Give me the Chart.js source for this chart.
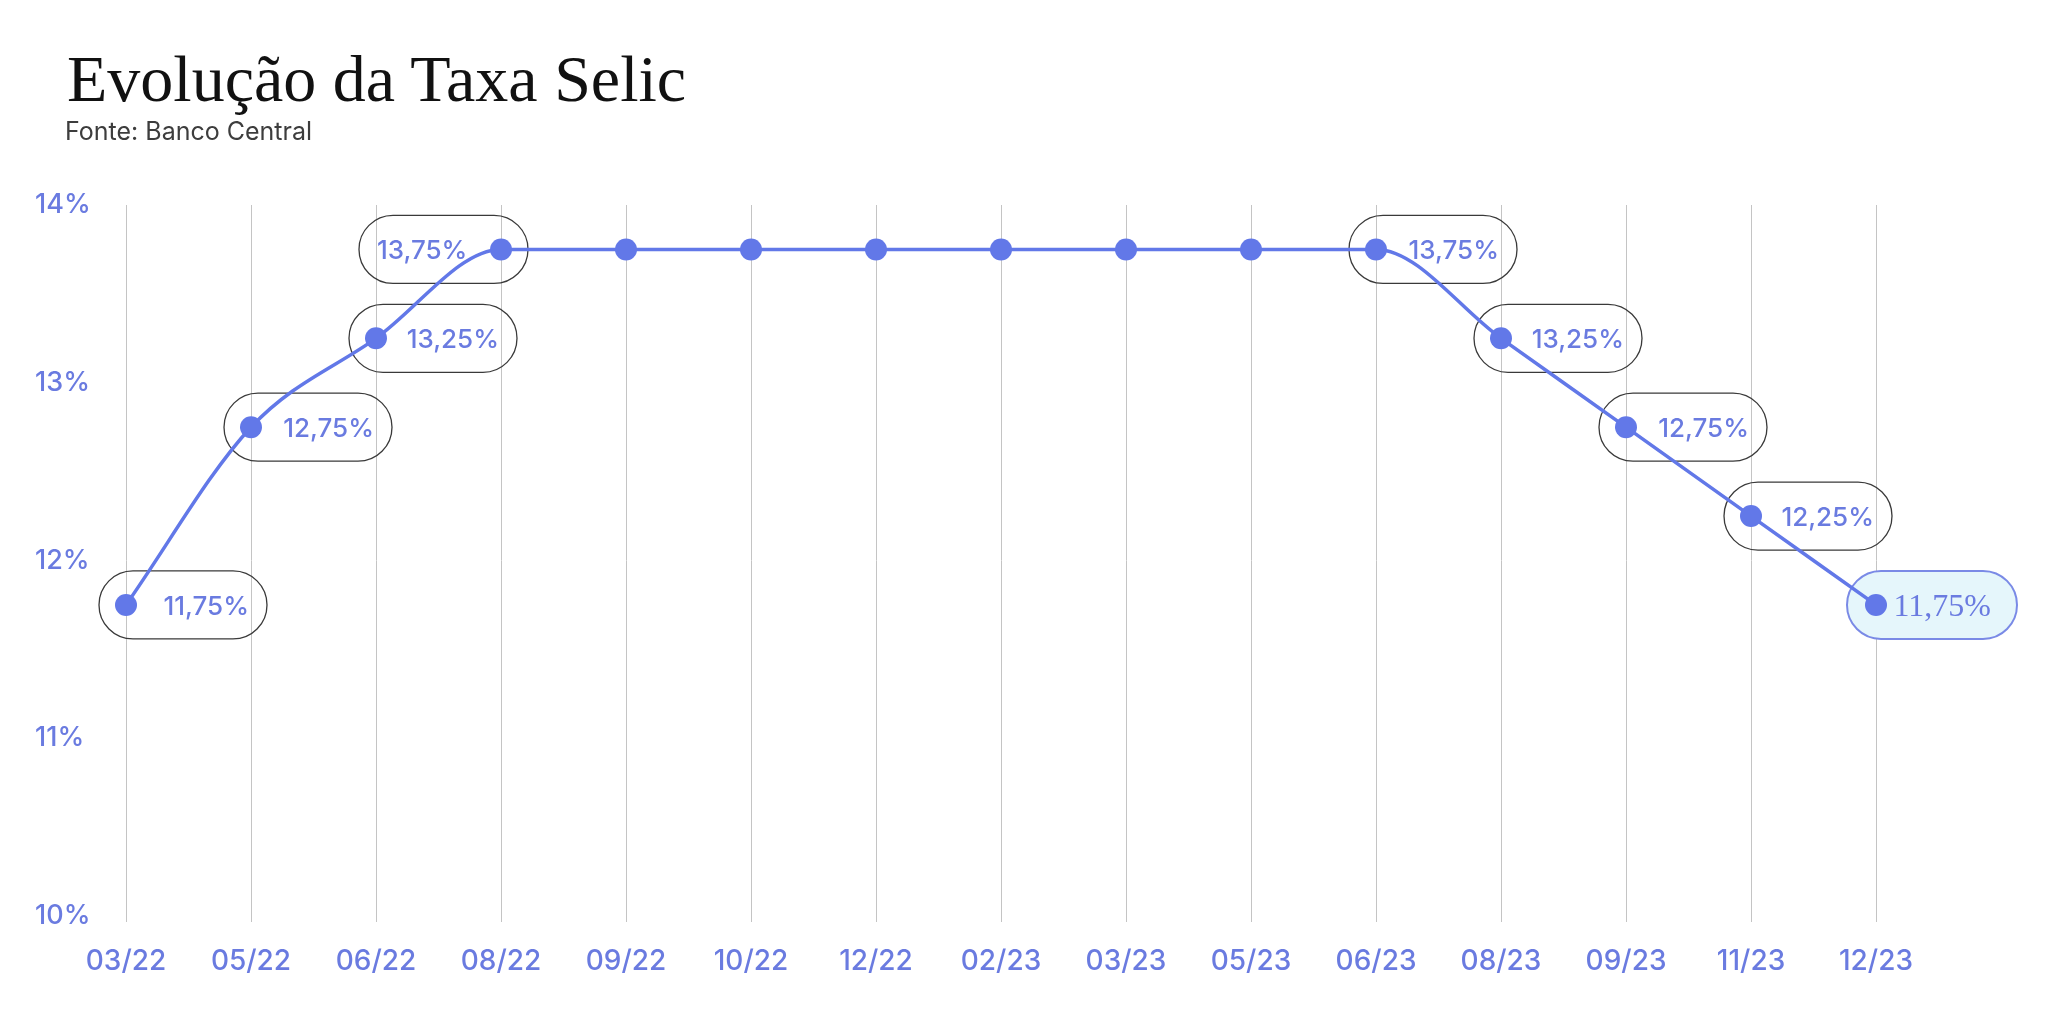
<!DOCTYPE html>
<html lang="pt-BR">
<head>
<meta charset="utf-8">
<title>Evolução da Taxa Selic</title>
<script src="https://cdn.jsdelivr.net/npm/chart.js@4.4.1/dist/chart.umd.min.js"></script>
<style>
  html, body { margin: 0; padding: 0; background: #fff; }
  body { width: 2048px; height: 1015px; position: relative; overflow: hidden; }
  #chartCanvas { position: absolute; left: 0; top: 0; }
  .titulo {
    position: absolute; left: 67px; top: 46px; margin: 0;
    font-family: "Liberation Serif", serif; font-weight: normal;
    font-size: 66px; line-height: 66px; color: #111;
  }
  .fonte {
    position: absolute; left: 65px; top: 119px; margin: 0;
    font-family: Inter, sans-serif; font-size: 25px; line-height: 25px; color: #3d3d3d;
  }
</style>
</head>
<body>
<canvas id="chartCanvas" width="2048" height="1015"></canvas>
<h1 class="titulo">Evolução da Taxa Selic</h1>
<p class="fonte">Fonte: Banco Central</p>
<script>
// dados
const meses = ["03/22", "05/22", "06/22", "08/22", "09/22", "10/22", "12/22", "02/23",
               "03/23", "05/23", "06/23", "08/23", "09/23", "11/23", "12/23"];
const selic = [11.75, 12.75, 13.25, 13.75, 13.75, 13.75, 13.75, 13.75,
               13.75, 13.75, 13.75, 13.25, 12.75, 12.25, 11.75];
const yTicks = [10, 11, 12, 13, 14];
// lado do rotulo de cada ponto (null = sem rotulo, "hl" = destaque)
const ladoRotulo = ["right", "right", "right", "left", null, null, null, null,
                    null, null, "right", "right", "right", "right", "hl"];

const azul = "#6278e8";
const azulTexto = "#6a7be0";

function pill(ctx, x, y, w, h) {
    const r = h / 2;
    ctx.beginPath();
    ctx.moveTo(x + r, y);
    ctx.lineTo(x + w - r, y);
    ctx.arc(x + w - r, y + r, r, -Math.PI / 2, Math.PI / 2);
    ctx.lineTo(x + r, y + h);
    ctx.arc(x + r, y + r, r, Math.PI / 2, Math.PI * 1.5);
    ctx.closePath();
}

const rotulosPlugin = {
    id: "rotulos",
    beforeDatasetsDraw(chart) {
        const ctx = chart.ctx;
        const pts = chart.getDatasetMeta(0).data;
        ctx.save();
        ladoRotulo.forEach((lado, i) => {
            if (!lado) return;
            const p = pts[i];
            const txt = selic[i].toFixed(2).replace(".", ",") + "%";
            const h = 68;
            let left, right;
            if (lado === "left") { left = p.x - 142; right = p.x + 27; }
            else if (lado === "hl") { left = p.x - 29; right = p.x + 141; }
            else { left = p.x - 27; right = p.x + 141; }
            pill(ctx, left, p.y - h / 2, right - left, h);
            if (lado === "hl") {
                ctx.fillStyle = "#e5f6fb";
                ctx.fill();
                ctx.strokeStyle = "#7a8ae6";
                ctx.lineWidth = 2;
            } else {
                ctx.strokeStyle = "#3a3a3a";
                ctx.lineWidth = 1.3;
            }
            ctx.stroke();
            ctx.fillStyle = azulTexto;
            ctx.textBaseline = "alphabetic";
            if (lado === "hl") {
                ctx.font = "32px 'Liberation Serif'";
                ctx.textAlign = "right";
                ctx.fillText(txt, right - 26, p.y + 11);
            } else if (lado === "left") {
                ctx.font = "500 26px Inter";
                ctx.textAlign = "left";
                ctx.fillText(txt, left + 18, p.y + 10);
            } else {
                ctx.font = "500 26px Inter";
                ctx.textAlign = "right";
                ctx.fillText(txt, right - 18, p.y + 10);
            }
        });
        ctx.restore();
    }
};

Chart.defaults.font.family = "Inter";
Chart.defaults.font.weight = "500";

const myChart = new Chart(document.getElementById("chartCanvas"), {
    type: "line",
    data: {
        labels: meses,
        datasets: [{
            label: "Selic",
            data: selic,
            borderColor: azul,
            borderWidth: 3.5,
            backgroundColor: azul,
            pointBackgroundColor: azul,
            pointBorderWidth: 0,
            pointRadius: 11,
            pointHoverRadius: 11,
            cubicInterpolationMode: "monotone",
            fill: false
        }]
    },
    options: {
        responsive: false,
        animation: false,
        events: [],
        layout: { padding: { left: 35, right: 172, top: 205, bottom: 0 } },
        plugins: {
            legend: { display: false },
            tooltip: { enabled: false }
        },
        scales: {
            x: {
                grid: { display: true, color: "#c4c4c4", lineWidth: 1, drawTicks: true, tickLength: 6 },
                border: { display: false },
                ticks: { color: azulTexto, font: { size: 28, weight: "500" }, padding: 23, maxRotation: 0, autoSkip: false },
                afterFit(scale) { scale.height = 99; }
            },
            y: {
                min: 10,
                max: 14,
                grid: { display: false },
                border: { display: false },
                afterBuildTicks(scale) { scale.ticks = yTicks.map(v => ({ value: v })); },
                ticks: {
                    color: azulTexto,
                    font: { size: 27, weight: "500" },
                    crossAlign: "far",
                    callback: v => v + "%"
                },
                afterFit(scale) { scale.width = 91; }
            }
        }
    },
    plugins: [rotulosPlugin]
});
</script>
</body>
</html>
